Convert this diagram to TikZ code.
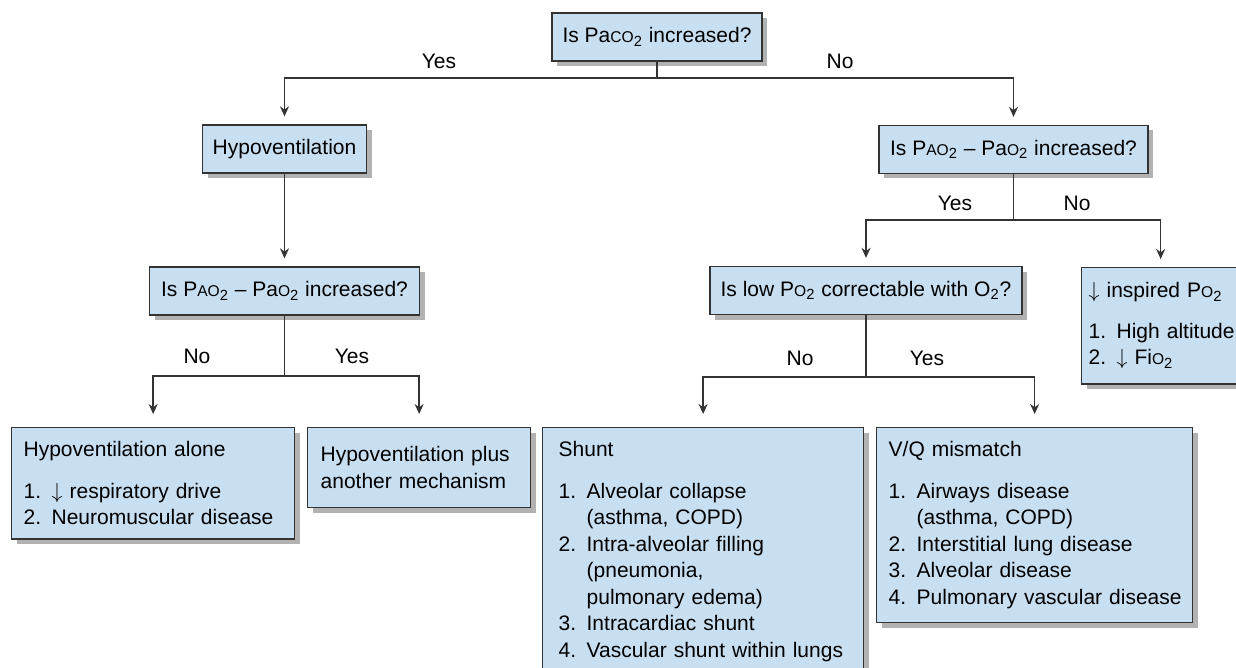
\documentclass[tikz,border=0pt]{standalone}
\usepackage{fontspec}
\setmainfont{Liberation Sans}
\usetikzlibrary{arrows.meta, shadows}

\definecolor{boxfill}{HTML}{C8DFF2}
\definecolor{boxline}{HTML}{333333}
\newcommand{\smc}[1]{{\fontsize{7.8pt}{9pt}\selectfont #1}}
\newcommand{\ssub}[1]{\textsubscript{#1}}
\newcommand{\litem}[2]{\makebox[14pt][l]{#1}\mbox{#2}}
\newcommand{\dn}{$\downarrow$}

\begin{document}
\begin{tikzpicture}[x=0.5pt, y=-0.5pt, font=\fontsize{10.5pt}{13.25pt}\selectfont,
      box/.style={draw=boxline, fill=boxfill, line width=0.65pt, drop shadow={shadow xshift=2.5pt, shadow yshift=-2.5pt, opacity=0.3, fill=black}},
      qbox/.style={box, align=center, minimum height=24pt, inner sep=0pt},
      lbox/.style={box, anchor=north west, align=left, inner xsep=8pt, inner ysep=7pt},
      lne/.style={draw=boxline, line width=0.7pt},
      arr/.style={lne, -{Stealth[length=5pt, width=4.5pt]}, shorten >=4pt},
      lbl/.style={inner sep=0pt}
    ]
    \clip (0,0) rectangle (1236,668);

    % ─── Questions ───────────────────────────────────────────────
    \node[qbox, minimum width=105pt] (paco) at (657,37) {Is Pa\smc{CO}\ssub{2} increased?};
    \node[qbox, minimum width=82pt] (hypo) at (284.5,149) {Hypoventilation};
    \node[qbox, minimum width=134.5pt] (gradR) at (1013.5,149.5) {Is P\smc{AO}\ssub{2} -- Pa\smc{O}\ssub{2} increased?};
    \node[qbox, minimum width=135pt] (gradL) at (284.5,291) {Is P\smc{AO}\ssub{2} -- Pa\smc{O}\ssub{2} increased?};
    \node[qbox, minimum width=156pt] (corr) at (866,290.5) {Is low P\smc{O}\ssub{2} correctable with O\ssub{2}?};

    % ─── Answers ─────────────────────────────────────────────────
    \node[lbox, text width=72pt, inner xsep=3.5pt, inner ysep=7.5pt] (insp) at (1081,267)
      {\dn\ inspired P\smc{O}\ssub{2}\\[7pt] \litem{1.}{High altitude}\\ \litem{2.}{\dn\ Fi\smc{O}\ssub{2}}};
    \node[lbox, text width=129.5pt, inner xsep=6pt] (alone) at (11,427)
      {Hypoventilation alone\\[7.5pt] \litem{1.}{\dn\ respiratory drive}\\ \litem{2.}{Neuromuscular disease}};
    \node[box, anchor=north west, align=left, text width=98.5pt, inner xsep=6.5pt, minimum height=40pt] (plus) at (307,427)
      {Hypoventilation plus\\another mechanism};
    \node[lbox, text width=144.5pt] (shunt) at (542,427)
      {Shunt\\[7.5pt] \litem{1.}{Alveolar collapse}\\ \litem{}{(asthma, COPD)}\\ \litem{2.}{Intra-alveolar filling}\\
       \litem{}{(pneumonia,}\\ \litem{}{pulmonary edema)}\\ \litem{3.}{Intracardiac shunt}\\ \litem{4.}{Vascular shunt within lungs}};
    \node[lbox, text width=146pt, inner xsep=6pt] (vq) at (876,427)
      {V/Q mismatch\\[7.5pt] \litem{1.}{Airways disease}\\ \litem{}{(asthma, COPD)}\\ \litem{2.}{Interstitial lung disease}\\
       \litem{3.}{Alveolar disease}\\ \litem{4.}{Pulmonary vascular disease}};

    % ─── Branch points ───────────────────────────────────────────
    \coordinate (j1) at (657,78);
    \coordinate (j2) at (1013.5,220);
    \coordinate (j3) at (284.5,376);
    \coordinate (j4) at (866,377);

    % ─── Arrows ──────────────────────────────────────────────────
    \draw[lne] (paco.south) -- (j1);
    \draw[arr] (j1) -| (hypo.north);
    \draw[arr] (j1) -| (gradR.north);

    \draw[arr] (hypo.south) -- (gradL.north);

    \draw[lne] (gradR.south) -- (j2);
    \draw[arr] (j2) -| (corr.north);
    \draw[arr] (j2) -| (insp.north);

    \draw[lne] (gradL.south) -- (j3);
    \draw[arr, shorten >=6.5pt] (j3) -| (alone.north);
    \draw[arr, shorten >=6.5pt] (j3) -| (plus.north);

    \draw[lne] (corr.south) -- (j4);
    \draw[arr, shorten >=6.5pt] (j4) -| (shunt.north);
    \draw[arr, shorten >=6.5pt] (j4) -| (vq.north);

    % ─── Yes / No labels ─────────────────────────────────────────
    \node[lbl] (yes1) at (439,61) {Yes};
    \node[lbl] (no1) at (840,61) {No};
    \node[lbl] (yes2) at (955,203) {Yes};
    \node[lbl] (no2) at (1077,203) {No};
    \node[lbl] (no3) at (197,356) {No};
    \node[lbl] (yes3) at (352,356) {Yes};
    \node[lbl] (no4) at (800,358) {No};
    \node[lbl] (yes4) at (927,358) {Yes};

    \end{tikzpicture}
\end{document}
